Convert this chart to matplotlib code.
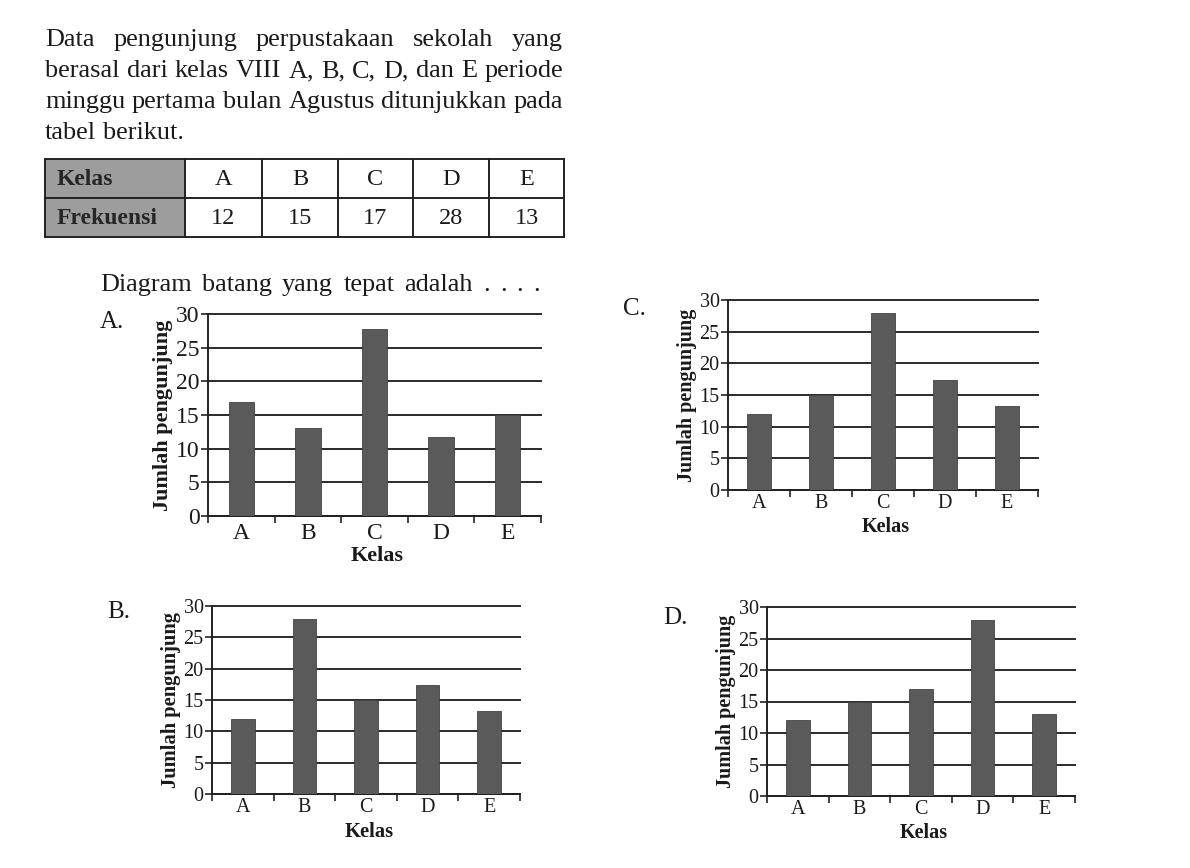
import matplotlib
matplotlib.use("Agg")
import matplotlib.pyplot as plt
from matplotlib.patches import Rectangle

# ---------------- data ----------------
kelas = ["A", "B", "C", "D", "E"]
frekuensi = [12, 15, 17, 28, 13]

vals_A = [17, 13, 27.7, 11.7, 15]
vals_B = [12, 28, 15, 17.4, 13.3]
vals_C = [12, 15, 28, 17.3, 13.3]
vals_D = [12, 15, 17, 28, 13]

y_ticks = [0, 5, 10, 15, 20, 25, 30]

paragraph = [
    "Data pengunjung perpustakaan sekolah yang",
    "berasal dari kelas VIII A, B, C, D, dan E periode",
    "minggu pertama bulan Agustus ditunjukkan pada",
    "tabel berikut.",
]
question = "Diagram batang yang tepat adalah . . . ."
ylabel_txt = "Jumlah pengunjung"
xlabel_txt = "Kelas"
row_heads = ["Kelas", "Frekuensi"]

# ---------------- figure ----------------
W, H = 1190, 868
fig = plt.figure(figsize=(W / 100, H / 100), dpi=100)
fig.patch.set_facecolor("white")
SERIF = ["Liberation Serif", "DejaVu Serif"]
INK = "#1a1a1a"

bg = fig.add_axes([0, 0, 1, 1])
bg.set_xlim(0, W)
bg.set_ylim(H, 0)
bg.axis("off")

renderer = fig.canvas.get_renderer()

# font size fitted so that the widest justified line fills the column
left, right = 45, 563
fits = []
for line in paragraph[:3]:
    probe = bg.text(0, 0, line, fontsize=20, family=SERIF)
    pw = probe.get_window_extent(renderer).width
    probe.remove()
    fits.append(20 * (right - left) / pw)
FS_TXT = min(fits) * 0.995


def justify(words, x_left, x_right, y, fs, stretch=True):
    objs = [bg.text(0, y, w, fontsize=fs, family=SERIF, color=INK,
                    va="baseline", ha="left") for w in words]
    widths = [o.get_window_extent(renderer).width for o in objs]
    if stretch and len(words) > 1:
        gap = (x_right - x_left - sum(widths)) / (len(words) - 1)
    else:
        gap = fs * 0.35
    x = x_left
    for o, w in zip(objs, widths):
        o.set_x(x)
        x += w + gap


baselines = [46, 77, 108, 139]
for i, line in enumerate(paragraph):
    justify(line.split(" "), left, right, baselines[i], FS_TXT,
            stretch=i < len(paragraph) - 1)

# table
col_edges = [45, 185, 262, 338, 413, 489, 564]
row_edges = [159, 198, 237]
for r in range(2):
    bg.add_patch(Rectangle((col_edges[0], row_edges[r]),
                           col_edges[1] - col_edges[0], row_edges[r + 1] - row_edges[r],
                           facecolor="#9d9d9d", edgecolor="none", zorder=1))
for x in col_edges:
    bg.plot([x, x], [row_edges[0], row_edges[-1]], color="#222", lw=1.4, zorder=3)
for y in row_edges:
    bg.plot([col_edges[0], col_edges[-1]], [y, y], color="#222", lw=1.4, zorder=3)
for r, head in enumerate(row_heads):
    cy = (row_edges[r] + row_edges[r + 1]) / 2
    bg.text(col_edges[0] + 12, cy + 1, head, fontsize=17, family=SERIF,
            fontweight="bold", color="#262626", va="center", ha="left", zorder=4)
for j in range(5):
    cx = (col_edges[j + 1] + col_edges[j + 2]) / 2
    bg.text(cx, (row_edges[0] + row_edges[1]) / 2 + 1, kelas[j], fontsize=17.5,
            family=SERIF, color=INK, va="center", ha="center")
    bg.text(cx, (row_edges[1] + row_edges[2]) / 2 + 1, str(frekuensi[j]), fontsize=17.5,
            family=SERIF, color=INK, va="center", ha="center")

# question
justify(question.split(" "), 100, 540, 291, FS_TXT, stretch=True)


def bar_chart(x0, x1, ytop, ybot, values, letter, lpos, xlab_y, fs_tick, fs_lab,
              xpad):
    ax = fig.add_axes([x0 / W, 1 - ybot / H, (x1 - x0) / W, (ybot - ytop) / H])
    ax.set_facecolor("none")
    pos = [i + 0.5 for i in range(len(kelas))]
    ax.bar(pos, values, width=0.38, color="#5a5a5a", edgecolor="#424242",
           linewidth=0.6, zorder=3)
    ax.set_xlim(0, len(kelas))
    ax.set_ylim(0, 30)
    ax.set_yticks(y_ticks)
    ax.set_yticklabels([str(t) for t in y_ticks], family=SERIF, fontsize=fs_tick,
                       color=INK)
    ax.yaxis.grid(True, color="#2a2a2a", lw=1.4, zorder=1)
    for gl in ax.get_ygridlines():
        gl.set_clip_on(False)
    ax.set_xticks(range(len(kelas) + 1))
    ax.set_xticklabels([])
    ax.set_xticks(pos, minor=True)
    ax.set_xticklabels(kelas, minor=True, family=SERIF, fontsize=fs_tick, color=INK)
    ax.tick_params(axis="x", which="major", direction="out", length=5, width=1.2,
                   color="#222")
    ax.tick_params(axis="x", which="minor", length=0, pad=xpad)
    ax.tick_params(axis="y", direction="out", length=5, width=1.2, color="#222",
                   pad=1)
    for s in ["top", "right"]:
        ax.spines[s].set_visible(False)
    for s in ["left", "bottom"]:
        ax.spines[s].set_color("#222")
        ax.spines[s].set_linewidth(1.4)
    ax.set_ylabel(ylabel_txt, family=SERIF, fontsize=fs_lab, fontweight="bold",
                  color=INK, labelpad=2)
    bg.text((x0 + x1) / 2 + 3, xlab_y, xlabel_txt, family=SERIF, fontsize=fs_lab,
            fontweight="bold", color=INK, ha="center", va="center")
    bg.text(lpos[0], lpos[1], letter, family=SERIF, fontsize=18, color=INK,
            ha="left", va="center")
    return ax


bar_chart(208, 541, 314, 516, vals_A, "A.", (100, 322), 556, 17, 16, 5)
bar_chart(728, 1038, 300, 490, vals_C, "C.", (623, 309), 527, 14.5, 14.5, 3)
bar_chart(212, 520, 606, 794, vals_B, "B.", (107, 612), 832, 14.5, 14.8, 3)
bar_chart(767, 1075, 607, 796, vals_D, "D.", (663, 618), 833, 14.5, 14.5, 3)

fig.savefig("out.png", dpi=100, facecolor="white")
